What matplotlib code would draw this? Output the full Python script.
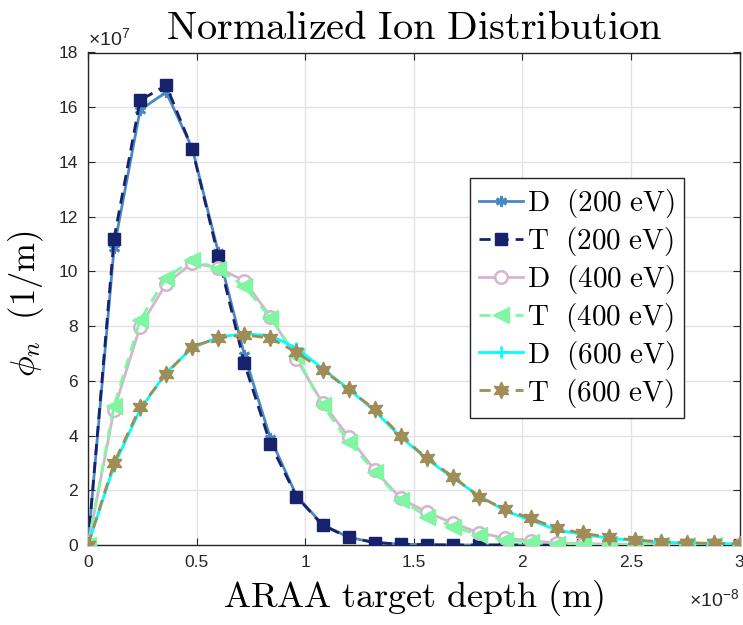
import numpy as np
import matplotlib
matplotlib.use("Agg")
import matplotlib.pyplot as plt
from matplotlib.font_manager import FontProperties
from matplotlib.ticker import FuncFormatter

plt.rcParams['font.family'] = ['Liberation Sans', 'DejaVu Sans']
plt.rcParams['mathtext.fontset'] = 'custom'
plt.rcParams['mathtext.rm'] = 'Liberation Sans'
plt.rcParams['mathtext.it'] = 'Liberation Sans:italic'

# depth points (m)
depth = [0.0, 1.2e-9, 2.4e-9, 3.6e-9, 4.8e-9, 6.0e-9, 7.2e-9, 8.4e-9, 9.6e-9,
         1.08e-8, 1.2e-8, 1.32e-8, 1.44e-8, 1.56e-8, 1.68e-8, 1.8e-8, 1.92e-8,
         2.04e-8, 2.16e-8, 2.28e-8, 2.4e-8, 2.52e-8, 2.64e-8, 2.76e-8, 2.88e-8, 3.0e-8]

# normalized ion distribution, in units of 1e7 1/m
d200 = [0, 10.85, 15.9, 16.55, 14.5, 10.7, 6.95, 3.9, 1.8, 0.75, 0.28, 0.09, 0.03,
        0.01, 0, 0, 0, 0, 0, 0, 0, 0, 0, 0, 0, 0]
t200 = [0, 11.2, 16.25, 16.8, 14.48, 10.55, 6.64, 3.69, 1.77, 0.72, 0.28, 0.09, 0.03,
        0.01, 0, 0, 0, 0, 0, 0, 0, 0, 0, 0, 0, 0]
d400 = [0, 4.94, 7.98, 9.55, 10.3, 10.13, 9.65, 8.35, 6.8, 5.19, 3.96, 2.74, 1.7,
        1.2, 0.8, 0.45, 0.25, 0.15, 0.08, 0.05, 0.03, 0.02, 0.01, 0.01, 0.01, 0.01]
t400 = [0, 5.08, 8.23, 9.76, 10.42, 10.1, 9.45, 8.3, 6.9, 5.1, 3.78, 2.68, 1.65,
        1.04, 0.67, 0.37, 0.18, 0.1, 0.05, 0.03, 0.02, 0.01, 0.01, 0, 0, 0]
d600 = [0, 2.9, 4.95, 6.3, 7.2, 7.6, 7.72, 7.65, 7.2, 6.45, 5.7, 4.9, 3.95,
        3.15, 2.45, 1.8, 1.25, 0.9, 0.55, 0.38, 0.25, 0.16, 0.1, 0.07, 0.05, 0.04]
t600 = [0, 3.0, 5.03, 6.25, 7.25, 7.56, 7.68, 7.56, 7.04, 6.4, 5.69, 4.96, 3.99,
        3.17, 2.5, 1.77, 1.3, 0.97, 0.61, 0.43, 0.28, 0.18, 0.12, 0.08, 0.06, 0.05]

labels = [r'$\mathrm{D\ \ (200\ eV)}$', r'$\mathrm{T\ \ (200\ eV)}$',
          r'$\mathrm{D\ \ (400\ eV)}$', r'$\mathrm{T\ \ (400\ eV)}$',
          r'$\mathrm{D\ \ (600\ eV)}$', r'$\mathrm{T\ \ (600\ eV)}$']

fig = plt.figure(figsize=(7.43, 6.25), dpi=100)
ax = fig.add_axes([0.1184, 0.128, 0.877, 0.788])

x = np.array(depth)
lw = 2.0
ax.plot(x, np.array(d200) * 1e7, '-', color='#4a88c2', lw=lw, marker=(6, 2, 0),
        ms=8, mew=2, label=labels[0], zorder=3)
ax.plot(x, np.array(t200) * 1e7, '--', color='#16226c', lw=lw, marker='s',
        ms=8, label=labels[1], zorder=3, dashes=(4, 2.5))
ax.plot(x, np.array(d400) * 1e7, '-', color='#d6b4cf', lw=lw, marker='o',
        ms=9, mfc='white', mew=1.8, label=labels[2], zorder=3)
ax.plot(x, np.array(t400) * 1e7, '--', color='#80f5a2', lw=lw, marker='<',
        ms=11, label=labels[3], zorder=3, dashes=(4, 2.5))
ax.plot(x, np.array(d600) * 1e7, '-', color='#00ffff', lw=lw, marker='+',
        ms=9, mew=2, label=labels[4], zorder=3)
ax.plot(x, np.array(t600) * 1e7, '--', color='#a08c55', lw=lw, marker=(6, 1, 0),
        ms=12, label=labels[5], zorder=3, dashes=(4, 2.5))

ax.set_xlim(0, 3e-8)
ax.set_ylim(0, 18e7)
ax.set_xticks(np.arange(0, 3.01e-8, 0.5e-8))
ax.set_yticks(np.arange(0, 18.1e7, 2e7))
ax.xaxis.set_major_formatter(FuncFormatter(lambda v, p: '%g' % round(v / 1e-8, 6)))
ax.yaxis.set_major_formatter(FuncFormatter(lambda v, p: '%g' % round(v / 1e7, 6)))

ax.text(0.0, 1.006, r'$\times10^{7}$', transform=ax.transAxes, ha='left',
        va='bottom', fontsize=14, color='#262626')
ax.text(1.0, -0.088, r'$\times10^{-8}$', transform=ax.transAxes, ha='right',
        va='top', fontsize=14, color='#262626')

ax.tick_params(direction='in', length=5, width=0.8, labelsize=12.5, top=True, right=True,
               colors='#262626', pad=7)
ax.grid(True, color='#e3e3e3', lw=1)
ax.set_axisbelow(True)
for s in ax.spines.values():
    s.set_linewidth(1)
    s.set_color('#262626')

ax.set_title(r'$\mathrm{Normalized\ Ion\ Distribution}$', fontsize=29,
             math_fontfamily='cm', pad=10)
ax.set_xlabel(r'$\mathrm{ARAA\ target\ depth\ (m)}$', fontsize=26,
              math_fontfamily='cm', labelpad=6)
ax.set_ylabel(r'$\phi_n\ \ \mathrm{(1/m)}$', fontsize=25, math_fontfamily='cm')
ax.yaxis.set_label_coords(-0.064, 0.49)

leg = ax.legend(loc='upper right', bbox_to_anchor=(0.915, 0.745),
                prop=FontProperties(math_fontfamily='cm', size=21),
                handlelength=1.5, handletextpad=0.15, labelspacing=0.17,
                borderpad=0.3, borderaxespad=0, fancybox=False, framealpha=1)
leg.get_frame().set_edgecolor('#262626')
leg.get_frame().set_linewidth(1)

fig.savefig('out.png', dpi=100)
